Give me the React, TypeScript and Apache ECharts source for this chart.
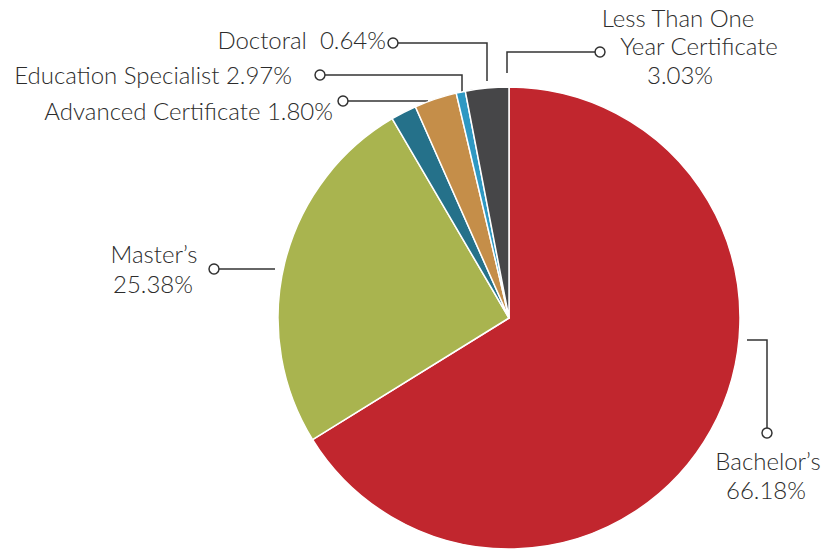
import React, { useEffect, useRef } from "react";
import * as echarts from "echarts";

const categories = [
  "Bachelor's",
  "Master's",
  "Advanced Certificate",
  "Education Specialist",
  "Doctoral",
  "Less Than One Year Certificate",
];
const values = [66.18, 25.38, 1.8, 2.97, 0.64, 3.03];
const colors = ["#C1262E", "#A9B44F", "#25718A", "#C58E49", "#2E98C3", "#464648"];

const TEXT = "#2c2c2c";
const LINE = "#333333";
const FONT = "Lato";

function txt(x: number, y: number, s: string, align: string) {
  return {
    type: "text",
    x,
    y,
    style: {
      text: s,
      fill: TEXT,
      font: `300 24px ${FONT}`,
      textAlign: align,
      textVerticalAlign: "middle",
    },
  };
}
function pl(points: number[][]) {
  return {
    type: "polyline",
    shape: { points },
    style: { stroke: LINE, lineWidth: 1.5, fill: "none" },
  };
}
function dot(x: number, y: number) {
  return {
    type: "circle",
    shape: { cx: x, cy: y, r: 5 },
    style: { stroke: LINE, lineWidth: 1.5, fill: "#fff" },
    z: 10,
  };
}

export default function App() {
  const ref = useRef<HTMLDivElement>(null);
  useEffect(() => {
    document.body.style.margin = "0";
    const chart = echarts.init(ref.current!, null, { renderer: "svg" });
    const fmt = (i: number) => values[i].toFixed(2) + "%";
    chart.setOption({
      animation: false,
      backgroundColor: "#fff",
      series: [
        {
          type: "pie",
          center: [509, 318],
          radius: [0, 231],
          startAngle: 90,
          clockwise: true,
          label: { show: false },
          labelLine: { show: false },
          itemStyle: { borderColor: "#fff", borderWidth: 1.5 },
          data: categories.map((c, i) => ({
            name: c,
            value: values[i],
            itemStyle: { color: colors[i] },
          })),
        },
      ],
      graphic: [
        // Doctoral
        pl([[398, 43], [487, 43], [487, 81]]),
        dot(393, 43),
        txt(386, 39, "Doctoral  " + fmt(4), "right"),
        // Education Specialist
        pl([[325, 75], [462, 75], [462, 92]]),
        dot(320, 75),
        txt(292, 74, "Education Specialist " + fmt(3), "right"),
        // Advanced Certificate
        pl([[348, 101], [428, 101]]),
        dot(343, 101),
        txt(333, 110, "Advanced Certificate " + fmt(2), "right"),
        // Less Than One Year
        pl([[595, 52], [507, 52], [507, 73]]),
        dot(600, 52),
        txt(678, 17, "Less Than One", "center"),
        txt(699, 45, "Year Certificate", "center"),
        txt(680, 74, fmt(5), "center"),
        // Bachelor's
        pl([[747, 340], [767, 340], [767, 428]]),
        dot(767, 433),
        txt(768, 460, "Bachelor\u2019s", "center"),
        txt(766, 489, fmt(0), "center"),
        // Master's
        pl([[219, 269], [275, 269]]),
        dot(214, 269),
        txt(154, 253, "Master\u2019s", "center"),
        txt(153, 283, fmt(1), "center"),
      ],
    });
    return () => chart.dispose();
  }, []);
  return <div ref={ref} style={{ width: 822, height: 550 }} />;
}
